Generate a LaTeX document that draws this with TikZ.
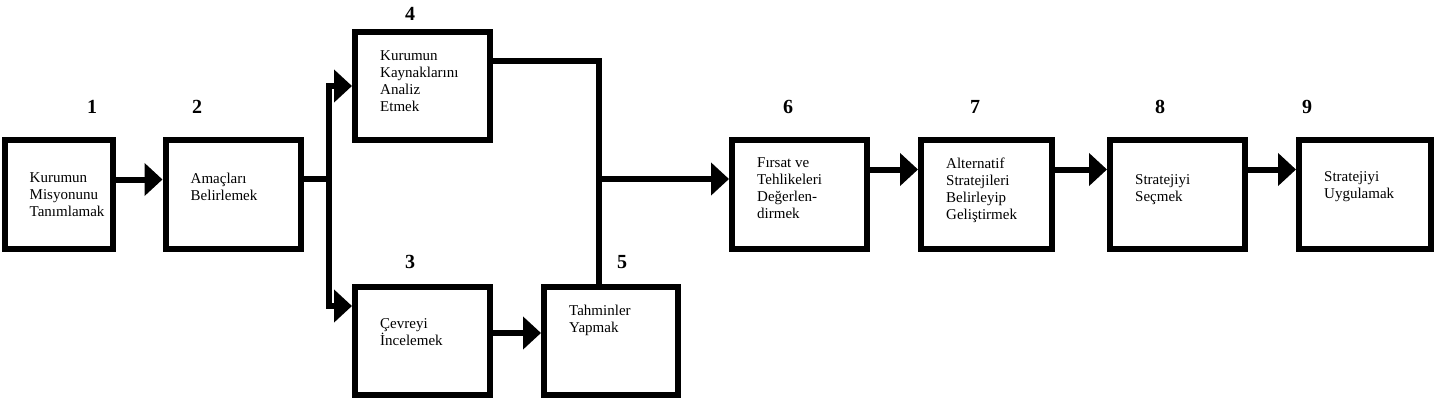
\documentclass[tikz,border=0pt]{standalone}
\usepackage{fontspec}
\setmainfont{Liberation Serif}
\usetikzlibrary{arrows.meta,positioning}
\tikzstyle{baglanti}=[line width=6pt]
\tikzstyle{ok}=[baglanti, -{Triangle[length=18pt,width=32pt]}]

\begin{document}
\begin{tikzpicture}[x=1pt,y=1pt,
    kutu/.style={rectangle,draw=black,line width=6pt,outer sep=3pt,inner sep=0pt,
      minimum height=108pt,minimum width=135pt},
    yazi/.style={align=left,inner sep=0pt,font=\fontsize{15}{17}\selectfont},
    numara/.style={inner sep=0pt,font=\fontsize{20}{24}\selectfont\bfseries}]
  \useasboundingbox (0,0) rectangle (1434,413);
  % kutular
  \node [kutu,minimum width=108pt] (b1) at (58.5,218.5) {};
  \node [kutu,right=47pt of b1] (b2) {};
  \node [kutu] (b4) at (422.5,327) {};
  \node [kutu,below=140.5pt of b4] (b3) {};
  \node [kutu,minimum width=134pt,right=48pt of b3] (b5) {};
  \node [kutu] (b6) at (799.5,218.5) {};
  \node [kutu,minimum width=131pt,right=48pt of b6] (b7) {};
  \node [kutu,right=52pt of b7] (b8) {};
  \node [kutu,minimum width=131.5pt,right=48pt of b8] (b9) {};
  % yazilar
  \node [yazi,below right=35pt and 28pt of b1.north west] (t1) {Kurumun\\Misyonunu\\Tanımlamak};
  \node [yazi,below right=35pt and 28pt of b2.north west] (t2) {Amaçları\\Belirlemek};
  \node [yazi,below right=21pt and 28pt of b4.north west] (t4) {Kurumun\\Kaynaklarını\\Analiz\\Etmek};
  \node [yazi,below right=35pt and 28pt of b3.north west] (t3) {Çevreyi\\İncelemek};
  \node [yazi,below right=21pt and 28pt of b5.north west] (t5) {Tahminler\\Yapmak};
  \node [yazi,below right=20pt and 28pt of b6.north west] (t6) {Fırsat ve\\Tehlikeleri\\Değerlen-\\dirmek};
  \node [yazi,below right=20pt and 28pt of b7.north west] (t7) {Alternatif\\Stratejileri\\Belirleyip\\Geliştirmek};
  \node [yazi,below right=37pt and 28pt of b8.north west] (t8) {Stratejiyi\\Seçmek};
  \node [yazi,below right=34pt and 28pt of b9.north west] (t9) {Stratejiyi\\Uygulamak};
  % numaralar
  \node [numara] (n1) at (92,306) {1};
  \node [numara] (n2) at (197,306) {2};
  \node [numara] (n4) at (410,399) {4};
  \node [numara] (n3) at (410,151) {3};
  \node [numara] (n5) at (622,151) {5};
  \node [numara] (n6) at (788,306) {6};
  \node [numara] (n7) at (975,306) {7};
  \node [numara] (n8) at (1160,306) {8};
  \node [numara] (n9) at (1307,306) {9};
  % oklar
  \coordinate (ayrim) at (328.5,234);
  \coordinate (birlesim) at (598.5,234);
  \draw [ok] ([yshift=15pt]b1.east) -- ([yshift=15pt]b2.west);
  \draw [baglanti] ([yshift=15.5pt]b2.east) -- (ayrim);
  \draw [ok] (ayrim) |- (b4.west);
  \draw [ok] (ayrim) |- ([yshift=34.5pt]b3.west);
  \draw [baglanti] ([yshift=24.5pt]b4.east) -| ([xshift=-12.5pt]b5.north);
  \draw [ok] (birlesim) -- (birlesim -| b6.west);
  \draw [ok] ([yshift=7.5pt]b3.east) -- ([yshift=7.5pt]b5.west);
  \draw [ok] ([yshift=25pt]b6.east) -- ([yshift=25pt]b7.west);
  \draw [ok] ([yshift=25pt]b7.east) -- ([yshift=25pt]b8.west);
  \draw [ok] ([yshift=25pt]b8.east) -- ([yshift=25pt]b9.west);
\end{tikzpicture}
\end{document}
